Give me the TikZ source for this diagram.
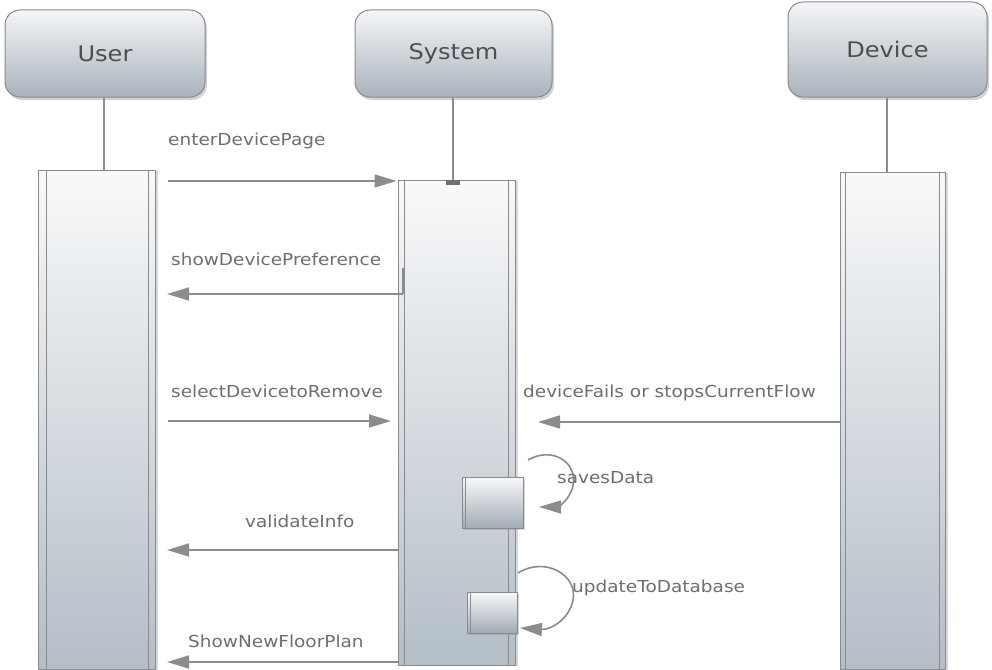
\documentclass[tikz,border=0pt]{standalone}
\usepackage{fontspec}
\setmainfont{DejaVu Sans}[FakeStretch=1.12]
\usetikzlibrary{arrows.meta,shadows}
\definecolor{hdtop}{HTML}{F4F5F7}
\definecolor{hdbot}{HTML}{A9B3BC}
\definecolor{bartop}{HTML}{F8F9FA}
\definecolor{barbot}{HTML}{B4BEC7}
\definecolor{edge}{HTML}{8A8A8A}
\definecolor{txt}{HTML}{4E4E4E}
\definecolor{lbl}{HTML}{6E6E6E}
\definecolor{arr}{HTML}{8C8C8C}
\tikzset{
  header/.style={draw=edge, line width=1pt, rounded corners=15pt, top color=hdtop, bottom color=hdbot,
    text=txt, font=\fontsize{21.5}{25}\selectfont, inner sep=0pt,
    drop shadow={opacity=0.35, shadow xshift=2pt, shadow yshift=-3pt}},
  actbar/.style={draw=edge, line width=1pt, top color=bartop, bottom color=barbot, inner sep=0pt,
    drop shadow={opacity=0.3, shadow xshift=3pt, shadow yshift=-1pt}},
  smallbox/.style={draw=edge, line width=1pt, top color=bartop, bottom color=barbot!90!black, inner sep=0pt,
    drop shadow={opacity=0.3, shadow xshift=2pt, shadow yshift=-2pt}},
  lifeline/.style={draw=arr, line width=1.2pt},
  msg/.style={draw=arr, line width=1.6pt, -{Triangle[length=22pt,width=13pt]}, arr},
  mlabel/.style={text=lbl, font=\fontsize{16.5}{19}\selectfont, anchor=base west, inner sep=0pt},
}
\begin{document}
\begin{tikzpicture}[x=1pt,y=-1pt]
\useasboundingbox (0,0) rectangle (992,669);
\fill[white] (0,0) rectangle (992,669);

% headers
\node[header, minimum width=200pt, minimum height=87pt] (user) at (105,53.5) {User};
\node[header, minimum width=197pt, minimum height=87pt] (sys) at (453.5,53.5) {System};
\node[header, minimum width=199pt, minimum height=95pt] (dev) at (887.5,49.5) {Device};

% lifeline anchor points
\coordinate (ubar) at (104,170);
\coordinate (sbar) at (453,180);
\coordinate (dbar) at (887,172);
\draw[lifeline] (user.south -| ubar) -- (ubar);
\draw[lifeline] (sys.south -| sbar) -- (sbar);
\draw[lifeline] (dev.south -| dbar) -- (dbar);

% activation bars
\node[actbar, minimum width=117pt, minimum height=499pt] (ub) at (96.5,419.5) {};
\draw[edge, line width=0.8pt] ([xshift=9pt]ub.north west) -- ([xshift=9pt]ub.south west);
\draw[edge, line width=0.8pt] ([xshift=-7pt]ub.north east) -- ([xshift=-7pt]ub.south east);

\node[actbar, minimum width=117pt, minimum height=485pt] (sb) at (456.5,422.5) {};
\draw[edge, line width=0.8pt] ([xshift=7pt]sb.north west) -- ([xshift=7pt]sb.south west);
\draw[edge, line width=0.8pt] ([xshift=-7pt]sb.north east) -- ([xshift=-7pt]sb.south east);
\fill[arr!80!black] ([xshift=-7pt]sbar) rectangle ([xshift=7pt,yshift=-5pt]sbar);

\node[actbar, minimum width=105pt, minimum height=497pt] (db) at (892.5,420.5) {};
\draw[edge, line width=0.8pt] ([xshift=6pt]db.north west) -- ([xshift=6pt]db.south west);
\draw[edge, line width=0.8pt] ([xshift=-6pt]db.north east) -- ([xshift=-6pt]db.south east);

% small activation boxes
\node[smallbox, minimum width=61pt, minimum height=51pt] (sv) at (492.5,502.5) {};
\draw[edge, line width=0.8pt] ([xshift=4pt]sv.north west) -- ([xshift=4pt]sv.south west);
\node[smallbox, minimum width=50pt, minimum height=41pt] (up) at (492,612.5) {};
\draw[edge, line width=0.8pt] ([xshift=4pt]up.north west) -- ([xshift=4pt]up.south west);

% message coordinates
\coordinate (m1s) at (168,181);
\coordinate (m1e) at (sb.west |- m1s);
\coordinate (m2s) at (403,294);
\coordinate (m2e) at (167,294);
\coordinate (m3s) at (168,421);
\coordinate (m3e) at (391,421);
\coordinate (m4s) at (db.west |- 0,422);
\coordinate (m4e) at (538,422);
\coordinate (m6s) at (sb.west |- 0,550);
\coordinate (m6e) at (167,550);
\coordinate (m8s) at (sb.west |- 0,662);
\coordinate (m8e) at (167,662);

\draw[msg] (m1s) -- ([xshift=-1pt]m1e);
\draw[arr, line width=1.2pt] (403,268) -- (m2s);
\draw[msg] (m2s) -- (m2e);
\draw[msg] (m3s) -- (m3e);
\draw[msg] (m4s) -- (m4e);
\draw[msg] (m6s) -- (m6e);
\draw[msg] (m8s) -- (m8e);

% self messages
\coordinate (l1s) at (528,460);
\coordinate (l1e) at (539,507);
\draw[msg] (l1s) .. controls (552,446) and (578,462) .. (573,486) .. controls (569,502) and (556,507) .. (l1e);
\coordinate (l2s) at (518,573);
\coordinate (l2e) at (520,628);
\draw[msg] (l2s) .. controls (545,556) and (578,575) .. (573,600) .. controls (569,620) and (550,630) .. (l2e);

% labels
\node[mlabel] (t1) at (168,145) {enterDevicePage};
\node[mlabel] (t2) at (171,265) {showDevicePreference};
\node[mlabel] (t3) at (171,397) {selectDevicetoRemove};
\node[mlabel] (t4) at (523,397) {deviceFails or stopsCurrentFlow};
\node[mlabel] (t5) at (557,483) {savesData};
\node[mlabel] (t6) at (245,527) {validateInfo};
\node[mlabel] (t7) at (572,592) {updateToDatabase};
\node[mlabel] (t8) at (188,647) {ShowNewFloorPlan};
\end{tikzpicture}
\end{document}
